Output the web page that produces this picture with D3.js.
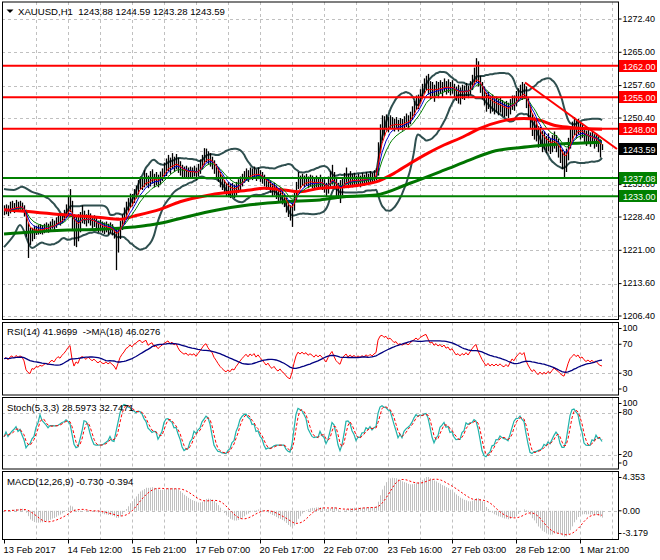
<!DOCTYPE html>
<html>
<head>
<meta charset="utf-8">
<script src="https://cdn.jsdelivr.net/npm/d3@7"></script>
<style>
body { margin: 0; background: #fff; }
text { font-family: "Liberation Sans", Arial, sans-serif; font-size: 9px; fill: #000; }
text.title { font-size: 9.6px; }
text.date { font-size: 9.3px; }
</style>
</head>
<body>
<script>
// XAUUSD H1 bars, one per hour
var closes = [
 1229.8,1230.2,1229.5,1230.4,1230.8,1230.2,1231.0,1230.5,1230.9,1230.6,
 1229.5,1226.0,1224.5,1223.8,1225.2,1224.8,1225.6,1225.3,1225.8,1225.5,
 1225.9,1226.3,1225.8,1226.5,1226.9,1226.4,1227.2,1227.8,1227.4,1228.2,
 1228.8,1229.6,1230.8,1231.6,1228.0,1225.0,1226.5,1225.8,1228.0,1228.6,
 1228.2,1227.5,1228.4,1227.8,1227.0,1227.6,1226.8,1226.2,1226.7,1226.0,
 1225.8,1226.3,1225.6,1226.0,1225.4,1224.8,1223.5,1225.0,1226.8,1228.0,
 1229.0,1230.6,1231.2,1232.5,1232.0,1233.6,1234.2,1235.5,1236.2,1235.6,
 1236.4,1237.2,1236.0,1236.8,1237.5,1236.5,1237.0,1236.3,1237.2,1238.0,
 1238.8,1239.6,1240.4,1239.8,1240.6,1240.0,1240.8,1239.8,1239.0,1238.6,
 1238.2,1238.6,1238.0,1238.5,1238.2,1238.6,1238.0,1238.8,1239.6,1240.6,
 1241.8,1242.4,1241.6,1241.0,1240.6,1239.4,1238.6,1237.6,1236.6,1235.8,
 1235.0,1234.4,1234.8,1234.0,1234.6,1234.2,1234.9,1235.5,1236.2,1236.8,
 1237.4,1238.0,1237.4,1238.2,1237.8,1238.4,1237.6,1238.2,1237.6,1237.0,
 1236.4,1235.6,1236.0,1235.0,1234.4,1234.8,1233.8,1233.2,1233.6,1232.6,
 1232.0,1230.8,1229.8,1229.2,1230.4,1232.6,1235.0,1236.6,1236.0,1236.8,
 1236.2,1236.8,1236.0,1236.6,1236.2,1235.6,1236.4,1235.8,1236.4,1235.8,
 1235.2,1234.4,1235.6,1236.8,1237.8,1236.4,1235.0,1234.2,1233.6,1235.4,
 1236.4,1237.2,1236.2,1237.0,1236.4,1236.9,1236.3,1236.8,1236.4,1236.9,
 1236.6,1237.2,1236.8,1237.4,1237.0,1237.6,1238.0,1244.0,1248.0,1249.2,
 1248.6,1249.8,1249.0,1250.0,1249.4,1248.8,1249.4,1248.6,1249.2,1248.8,
 1249.4,1250.0,1249.6,1250.4,1251.8,1252.6,1254.0,1253.6,1255.4,1256.4,
 1257.6,1258.4,1257.4,1256.4,1257.0,1256.2,1257.2,1256.6,1257.4,1256.8,
 1257.8,1257.0,1257.6,1256.8,1257.4,1256.6,1255.8,1256.2,1255.6,1256.4,
 1256.0,1256.8,1256.2,1257.2,1258.4,1259.6,1260.4,1258.8,1257.6,1256.2,
 1255.0,1253.6,1254.4,1253.2,1253.8,1253.0,1253.6,1252.8,1253.4,1252.6,
 1252.2,1252.8,1252.0,1253.0,1254.2,1253.6,1254.8,1255.6,1256.4,1255.8,
 1256.6,1254.0,1252.2,1250.4,1248.6,1249.2,1247.4,1245.8,1246.6,1245.0,
 1245.6,1244.4,1245.2,1244.0,1244.8,1245.6,1244.6,1243.8,1242.4,1241.2,
 1240.4,1242.0,1244.4,1246.6,1247.6,1248.8,1247.8,1248.6,1247.2,1247.8,
 1246.6,1245.8,1246.4,1245.6,1246.2,1245.2,1245.8,1244.6,1243.9,1243.59
];
var highs = [
 1231.0,1231.2,1231.0,1231.8,1232.0,1231.5,1232.2,1231.8,1232.0,1231.6,
 1231.0,1230.0,1227.0,1226.0,1226.0,1226.5,1226.4,1226.6,1226.8,1226.6,
 1226.9,1227.2,1226.9,1227.4,1228.0,1227.6,1228.3,1229.0,1228.8,1229.2,
 1230.0,1231.2,1233.0,1234.6,1232.0,1229.0,1228.5,1229.0,1229.5,1231.0,
 1229.8,1229.0,1230.0,1229.2,1228.6,1228.8,1228.2,1227.6,1227.8,1227.4,
 1227.2,1227.4,1226.9,1227.2,1226.8,1226.2,1225.8,1226.0,1227.5,1229.0,
 1230.5,1231.8,1232.6,1233.6,1233.5,1234.6,1235.4,1236.6,1237.4,1237.0,
 1238.8,1238.2,1237.6,1238.6,1239.0,1238.0,1238.4,1237.8,1238.5,1239.2,
 1240.5,1241.4,1242.2,1241.6,1242.6,1241.8,1242.4,1241.6,1240.8,1240.0,
 1239.6,1239.8,1239.4,1239.6,1239.4,1239.8,1239.4,1240.2,1241.2,1242.2,
 1243.7,1243.6,1243.0,1242.6,1241.8,1241.0,1240.2,1239.4,1238.4,1237.6,
 1236.6,1236.0,1236.2,1235.8,1236.0,1235.6,1236.2,1236.8,1237.4,1238.0,
 1238.6,1239.2,1238.8,1239.4,1239.2,1239.6,1239.0,1239.4,1238.8,1238.4,
 1237.8,1237.2,1237.2,1236.6,1235.8,1236.0,1235.4,1234.8,1235.0,1234.2,
 1233.6,1232.6,1231.6,1231.0,1231.6,1233.8,1236.2,1238.4,1237.6,1238.0,
 1237.6,1238.0,1237.4,1237.8,1237.6,1237.0,1237.6,1237.2,1237.8,1237.2,
 1236.8,1236.0,1237.4,1238.6,1240.0,1238.4,1237.0,1236.0,1236.6,1237.2,
 1238.2,1239.4,1238.0,1238.6,1238.0,1238.2,1237.6,1238.0,1237.6,1238.2,
 1237.8,1238.4,1238.0,1238.6,1238.2,1238.8,1239.2,1245.0,1249.0,1251.0,
 1250.8,1251.2,1250.6,1251.0,1250.6,1250.2,1250.6,1250.0,1250.4,1250.2,
 1250.8,1251.4,1251.0,1251.8,1253.0,1254.2,1255.4,1255.6,1256.8,1258.0,
 1259.2,1259.8,1260.2,1258.6,1258.4,1257.8,1258.6,1258.4,1258.8,1258.4,
 1259.2,1258.6,1259.0,1258.4,1258.8,1258.0,1257.4,1257.8,1257.2,1257.8,
 1257.6,1258.2,1257.6,1258.6,1260.0,1261.6,1263.7,1263.0,1259.8,1258.4,
 1257.4,1256.0,1256.2,1255.4,1255.6,1254.8,1255.2,1254.6,1255.0,1254.4,
 1254.0,1254.2,1253.8,1254.6,1255.4,1255.4,1256.4,1257.0,1257.8,1258.4,
 1258.0,1257.4,1254.8,1253.0,1251.4,1250.6,1250.0,1248.6,1248.4,1247.6,
 1247.4,1246.4,1247.0,1246.0,1246.6,1247.4,1246.6,1245.8,1244.6,1243.4,
 1243.0,1243.6,1246.0,1248.2,1249.6,1250.6,1250.0,1250.2,1249.4,1249.2,
 1248.2,1247.6,1247.8,1247.2,1247.4,1246.8,1247.0,1246.4,1245.6,1244.59
];
var lows = [
 1228.8,1229.0,1228.6,1229.2,1229.8,1229.3,1230.0,1229.6,1230.0,1229.8,
 1228.5,1224.0,1219.3,1222.2,1223.0,1223.5,1224.4,1224.5,1224.6,1224.5,
 1224.8,1225.0,1224.9,1225.3,1225.8,1225.4,1226.0,1226.6,1226.5,1227.0,
 1227.6,1228.2,1229.0,1229.5,1225.5,1222.0,1221.7,1223.0,1225.0,1227.0,
 1226.8,1226.3,1227.0,1226.5,1225.8,1226.2,1225.5,1225.0,1225.2,1224.9,
 1224.6,1225.0,1224.5,1224.8,1224.3,1223.6,1216.6,1220.5,1223.5,1225.5,
 1227.0,1228.5,1229.5,1230.5,1230.8,1231.5,1232.5,1233.4,1234.6,1234.4,
 1235.0,1235.4,1234.8,1235.2,1235.8,1235.0,1235.5,1235.0,1235.6,1236.4,
 1236.8,1237.5,1238.6,1238.0,1239.0,1238.4,1239.0,1238.2,1237.6,1237.2,
 1237.0,1237.2,1236.8,1237.2,1237.0,1237.4,1236.6,1237.4,1238.0,1239.0,
 1240.0,1240.6,1240.2,1239.6,1239.0,1238.0,1237.0,1236.2,1235.0,1234.4,
 1233.6,1233.0,1232.8,1232.6,1233.0,1232.6,1233.2,1233.8,1234.4,1235.2,
 1236.0,1236.6,1236.2,1236.8,1236.6,1237.0,1236.4,1236.8,1236.2,1235.8,
 1235.2,1234.4,1234.6,1233.8,1233.0,1233.2,1232.4,1231.8,1232.0,1231.2,
 1230.6,1229.4,1228.4,1227.6,1226.2,1229.8,1232.0,1234.6,1234.8,1235.4,
 1235.0,1235.4,1234.8,1235.2,1234.8,1234.4,1235.0,1234.6,1235.0,1234.4,
 1233.8,1232.8,1233.6,1234.8,1235.6,1234.6,1233.0,1232.4,1231.5,1233.2,
 1234.8,1235.6,1234.8,1235.4,1235.0,1235.4,1235.0,1235.4,1235.0,1235.6,
 1235.4,1235.8,1235.6,1236.0,1235.8,1236.4,1236.6,1237.6,1242.6,1245.4,
 1246.4,1247.6,1247.2,1248.2,1248.0,1247.4,1248.0,1247.4,1247.8,1247.6,
 1248.0,1248.4,1248.2,1249.0,1250.0,1251.0,1252.2,1252.4,1253.6,1254.8,
 1255.8,1256.6,1255.6,1254.6,1255.2,1254.0,1255.4,1254.8,1255.8,1255.0,
 1256.2,1255.6,1256.0,1255.4,1255.8,1255.0,1254.2,1253.6,1253.4,1254.6,
 1254.4,1255.2,1254.8,1255.6,1256.6,1257.8,1258.4,1257.4,1256.0,1254.6,
 1253.2,1251.8,1252.4,1251.4,1251.8,1251.2,1251.6,1251.0,1251.6,1250.8,
 1250.6,1250.8,1250.4,1251.2,1252.2,1252.0,1253.0,1254.0,1254.6,1254.4,
 1254.6,1252.6,1250.4,1248.0,1246.4,1245.6,1245.2,1243.8,1244.4,1242.8,
 1243.4,1242.6,1243.0,1242.4,1242.8,1243.6,1242.8,1241.6,1240.4,1239.0,
 1237.1,1238.4,1241.0,1243.6,1245.4,1246.6,1246.0,1246.8,1245.6,1246.0,
 1245.0,1244.2,1244.8,1244.0,1244.6,1243.6,1244.0,1242.8,1241.6,1243.28
];

// slow moving averages as [bar, price]
var slowRedMA = [[0,1230.0],[10,1229.7],[32,1228.8],[48,1228.3],[58,1227.9],
  [65,1228.6],[78,1230.1],[88,1231.8],[103,1233.3],[123,1234.4],[130,1234.8],
  [140,1234.4],[148,1234.0],[158,1234.8],[170,1235.1],[186,1236.2],[195,1238.1],
  [203,1240.3],[212,1242.6],[220,1244.4],[228,1245.9],[233,1247.0],[238,1248.1],
  [248,1249.6],[260,1250.3],[267,1250.0],[275,1248.8],[283,1248.3],[299,1247.9]];
var slowGreenMA = [[0,1224.6],[15,1225.1],[32,1225.5],[48,1225.7],[65,1226.2],
  [73,1226.6],[78,1227.0],[90,1228.3],[106,1229.9],[123,1231.1],[140,1231.8],
  [158,1232.2],[170,1232.9],[186,1233.3],[203,1235.9],[220,1238.8],[233,1241.1],
  [244,1242.9],[262,1244.0],[278,1244.6],[299,1245.0]];
// Bollinger bands before the 20 bar window fills
var bbLeadUpper = [[0,1234.6],[5,1234.4],[9,1235.1],[14,1234.0]];
var bbLeadLower = [[0,1221.7],[5,1224.4],[8,1226.6],[14,1221.5]];

var redLevels = [1262.00, 1255.00, 1248.00];
var greenLevels = [1237.08, 1233.00];
var lastPrice = 1243.59;
var trendLine = [[260.5, 1258.3], [306.5, 1243.5]];

var priceTicks = [1272.4, 1265.0, 1257.6, 1250.4, 1243.0, 1235.6, 1228.4,
                  1221.0, 1213.6, 1206.4];
var rsiTicks = [100, 70, 30, 0];
var stochTicks = [100, 80, 20, 0];
var macdTicks = [4.353, 0, -3.179];
var macdTickLabels = ["4.353", "0.00", "-3.179"];
var dateBars = [0, 32, 64, 96, 128, 160, 192, 224, 256, 288];
var dateLabels = ["13 Feb 2017", "14 Feb 12:00", "15 Feb 21:00",
  "17 Feb 07:00", "20 Feb 17:00", "22 Feb 07:00", "23 Feb 16:00",
  "27 Feb 03:00", "28 Feb 12:00", "1 Mar 21:00"];

var titleMain = "XAUUSD,H1  1243.88 1244.59 1243.28 1243.59";
var titleRsi = "RSI(14) 41.9699  ->MA(18) 46.0276";
var titleStoch = "Stoch(5,3,3) 28.5973 32.7471";
var titleMacd = "MACD(12,26,9) -0.730 -0.394";

// ---- indicators -----------------------------------------------------------
function ema(src, p) {
    var a = 2 / (p + 1), out = [], e = src[0];
    src.forEach(function(v, i) {
        e = i ? a * v + (1 - a) * e : v;
        out.push(e);
    });
    return out;
}
function sma(src, p) {
    return src.map(function(v, i) {
        return d3.mean(src.slice(Math.max(0, i - p + 1), i + 1));
    });
}
var N = closes.length;
var ema5 = ema(closes, 5), ema8 = ema(closes, 8), ema13 = ema(closes, 13);

var bbUpper = [], bbLower = [];
for (var i = 19; i < N; i++) {
    var w = closes.slice(i - 19, i + 1);
    var m = d3.mean(w);
    var sd = Math.sqrt(d3.mean(w, function(v) { return (v - m) * (v - m); }));
    bbUpper.push([i, m + 2 * sd]);
    bbLower.push([i, m - 2 * sd]);
}
bbUpper = bbLeadUpper.concat(bbUpper);
bbLower = bbLeadLower.concat(bbLower);

// RSI 14 (Wilder)
var seed = d3.mean(d3.range(1, 15), function(k) {
    return Math.abs(closes[k] - closes[k - 1]);
}) / 2;
var ag = seed, al = seed, rsi = [50];
for (i = 1; i < N; i++) {
    var dd = closes[i] - closes[i - 1];
    ag = (ag * 13 + Math.max(dd, 0)) / 14;
    al = (al * 13 + Math.max(-dd, 0)) / 14;
    rsi.push(100 * ag / (ag + al));
}
var rsiMa = sma(rsi, 18);

// Stochastic 5,3,3
var num = [], den = [];
for (i = 0; i < N; i++) {
    var lo = d3.min(lows.slice(Math.max(0, i - 4), i + 1));
    var hi = d3.max(highs.slice(Math.max(0, i - 4), i + 1));
    num.push(closes[i] - lo);
    den.push(hi - lo);
}
var stK = num.map(function(v, i) {
    var a = Math.max(0, i - 2);
    return 100 * d3.sum(num.slice(a, i + 1)) / d3.sum(den.slice(a, i + 1));
});
var stD = sma(stK, 3);

// MACD 12,26,9
var e12 = ema(closes, 12), e26 = ema(closes, 26);
var macd = e12.map(function(v, i) { return v - e26[i]; });
var macdSig = sma(macd, 9);

// ---- layout ---------------------------------------------------------------
var L = 2, R = 618;
var panels = {
    main:  {top: 2,   bottom: 319.5},
    rsi:   {top: 322.5, bottom: 395},
    stoch: {top: 397.5, bottom: 469},
    macd:  {top: 471.5, bottom: 539.5}
};

var svg = d3.select("body").append("svg")
    .attr("width", 660).attr("height", 560)
    .style("background", "#fff");

var x = d3.scaleLinear().domain([0, 300]).range([4, 604]);
var yPrice = d3.scaleLinear().domain([1206.4, 1272.4]).range([316, 19]);
var yRsi = d3.scaleLinear().domain([0, 100]).range([395, 322.5]);
var yStoch = d3.scaleLinear().domain([0, 100]).range([468.5, 398.5]);
var yMacd = d3.scaleLinear().domain([-3.179, 4.353])
    .range([539.5, 471.5]);

var gridBars = d3.range(16, 305, 16);
var defs = svg.append("defs");

function makePanel(name, p) {
    defs.append("clipPath").attr("id", "clip-" + name)
        .append("rect").attr("x", L).attr("y", p.top)
        .attr("width", R - L).attr("height", p.bottom - p.top);
    var g = svg.append("g");
    g.selectAll("line.vgrid").data(gridBars).enter().append("line")
        .attr("x1", function(d) { return Math.round(x(d)) + 0.5; })
        .attr("x2", function(d) { return Math.round(x(d)) + 0.5; })
        .attr("y1", p.top).attr("y2", p.bottom)
        .attr("stroke", "#c0c0c0").attr("stroke-dasharray", "3,3");
    return g;
}
function hGrid(g, vals, y) {
    g.selectAll("line.hgrid").data(vals).enter().append("line")
        .attr("x1", L).attr("x2", R)
        .attr("y1", function(d) { return Math.round(y(d)) + 0.5; })
        .attr("y2", function(d) { return Math.round(y(d)) + 0.5; })
        .attr("stroke", "#c0c0c0").attr("stroke-dasharray", "3,3");
}
function frame(p) {
    svg.append("rect").attr("x", L + 0.5).attr("y", p.top)
        .attr("width", R - L).attr("height", p.bottom - p.top)
        .attr("fill", "none").attr("stroke", "#000");
}
// right-hand scale; min/max labels are kept inside the panel, as MT4 does
function sideAxis(scale, vals, labels, p) {
    var ax = d3.axisRight(scale).tickValues(vals).tickSize(3).tickPadding(1)
        .tickFormat(function(d, i) { return labels ? labels[i] : d; });
    var g = svg.append("g").attr("transform", "translate(" + (R + 0.5) + ",0)")
        .call(ax);
    g.select(".domain").remove();
    g.selectAll(".tick").attr("transform", function(d) {
        var yy = Math.max(p.top + 6, Math.min(p.bottom - 6, scale(d)));
        return "translate(0," + yy + ")";
    });
    g.selectAll("text").attr("font-size", null).attr("font-family", null);
    return g;
}
function seriesLine(g, name, vals, y, color, width, dash) {
    var ln = d3.line().x(function(d, i) { return x(i); })
        .y(function(d) { return y(d); });
    g.append("path").attr("d", ln(vals))
        .attr("clip-path", "url(#clip-" + name + ")")
        .attr("fill", "none").attr("stroke", color)
        .attr("stroke-width", width)
        .attr("stroke-dasharray", dash || null);
}
function pairLine(g, name, pts, y, color, width) {
    var ln = d3.line().curve(d3.curveMonotoneX)
        .x(function(d) { return x(d[0]); })
        .y(function(d) { return y(d[1]); });
    g.append("path").attr("d", ln(pts))
        .attr("clip-path", "url(#clip-" + name + ")")
        .attr("fill", "none").attr("stroke", color)
        .attr("stroke-width", width).attr("stroke-linejoin", "round");
}

// ---- main price panel ----------------------------------------------------
var gm = makePanel("main", panels.main);
hGrid(gm, priceTicks, yPrice);

pairLine(gm, "main", bbUpper, yPrice, "#2f4f4f", 2);
pairLine(gm, "main", bbLower, yPrice, "#2f4f4f", 2);

// bars: high-low line
gm.selectAll("line.bar").data(closes).enter().append("line")
    .attr("x1", function(d, i) { return x(i) + 0.5; })
    .attr("x2", function(d, i) { return x(i) + 0.5; })
    .attr("y1", function(d, i) { return yPrice(highs[i]); })
    .attr("y2", function(d, i) { return yPrice(lows[i]); })
    .attr("stroke", "#000").attr("stroke-width", 1.3);

pairLine(gm, "main", slowGreenMA, yPrice, "#007400", 3);
pairLine(gm, "main", slowRedMA, yPrice, "#ff0000", 3);
seriesLine(gm, "main", ema13, yPrice, "#008000", 1);
seriesLine(gm, "main", ema8, yPrice, "#0000cd", 1);
seriesLine(gm, "main", ema5, yPrice, "#ff0000", 1);

// horizontal levels and trend line
gm.selectAll("line.red").data(redLevels).enter().append("line")
    .attr("x1", L).attr("x2", R)
    .attr("y1", function(d) { return yPrice(d); })
    .attr("y2", function(d) { return yPrice(d); })
    .attr("stroke", "#ff0000").attr("stroke-width", 2);
gm.selectAll("line.green").data(greenLevels).enter().append("line")
    .attr("x1", L).attr("x2", R)
    .attr("y1", function(d) { return yPrice(d); })
    .attr("y2", function(d) { return yPrice(d); })
    .attr("stroke", "#008000").attr("stroke-width", 2);
gm.append("line")
    .attr("clip-path", "url(#clip-main)")
    .attr("x1", x(trendLine[0][0])).attr("y1", yPrice(trendLine[0][1]))
    .attr("x2", x(trendLine[1][0])).attr("y2", yPrice(trendLine[1][1]))
    .attr("stroke", "#ff0000").attr("stroke-width", 2);

frame(panels.main);
sideAxis(yPrice, priceTicks, priceTicks.map(d3.format(".2f")),
    {top: -100, bottom: 1000});

// price boxes on the axis
function priceBox(v, color) {
    var yy = Math.round(yPrice(v));
    svg.append("rect").attr("x", R + 1).attr("y", yy - 6)
        .attr("width", 38).attr("height", 12).attr("fill", color);
    svg.append("text").attr("x", R + 5).attr("y", yy + 3.5)
        .style("fill", "#fff").text(d3.format(".2f")(v));
}
redLevels.forEach(function(v) { priceBox(v, "#ff0000"); });
greenLevels.forEach(function(v) { priceBox(v, "#008000"); });
priceBox(lastPrice, "#000");

// title
svg.append("path").attr("d", "M6.5,9.5 L13.5,9.5 L10,13 Z").attr("fill", "#000");
svg.append("text").attr("class", "title").attr("x", 18).attr("y", 14.5)
    .style("white-space", "pre").text(titleMain);

// ---- RSI panel -------------------------------------------------------------
var gr = makePanel("rsi", panels.rsi);
hGrid(gr, [70, 30], yRsi);
seriesLine(gr, "rsi", rsi, yRsi, "#ff0000", 1);
seriesLine(gr, "rsi", rsiMa, yRsi, "#000080", 1.3);
frame(panels.rsi);
sideAxis(yRsi, rsiTicks, null, panels.rsi);
svg.append("text").attr("class", "title").attr("x", 7).attr("y", 334.5)
    .style("white-space", "pre").text(titleRsi);

// ---- Stochastic panel ------------------------------------------------------
var gs = makePanel("stoch", panels.stoch);
hGrid(gs, [80, 20], yStoch);
svg.append("text").attr("class", "title").attr("x", 7).attr("y", 410.5)
    .style("white-space", "pre").text(titleStoch);
seriesLine(gs, "stoch", stK, yStoch, "#20b2aa", 1.2);
seriesLine(gs, "stoch", stD, yStoch, "#ff0000", 1, "3,2");
frame(panels.stoch);
sideAxis(yStoch, stochTicks, null, panels.stoch);

// ---- MACD panel ------------------------------------------------------------
var gc = makePanel("macd", panels.macd);
hGrid(gc, [0], yMacd);
gc.selectAll("line.hist").data(macd).enter().append("line")
    .attr("clip-path", "url(#clip-macd)")
    .attr("x1", function(d, i) { return x(i) + 0.5; })
    .attr("x2", function(d, i) { return x(i) + 0.5; })
    .attr("y1", yMacd(0))
    .attr("y2", function(d) { return yMacd(d); })
    .attr("stroke", "#c0c0c0").attr("stroke-width", 1);
seriesLine(gc, "macd", macdSig, yMacd, "#ff0000", 1, "2,2");
frame(panels.macd);
sideAxis(yMacd, macdTicks, macdTickLabels, panels.macd);
svg.append("text").attr("class", "title").attr("x", 7).attr("y", 484.5)
    .style("white-space", "pre").text(titleMacd);

// ---- time axis -------------------------------------------------------------
var xAxis = d3.axisBottom(x).tickValues(dateBars).tickSize(4).tickPadding(3)
    .tickFormat(function(d, i) { return dateLabels[i]; });
var gx = svg.append("g").attr("transform", "translate(0," + panels.macd.bottom + ")")
    .call(xAxis);
gx.select(".domain").remove();
gx.selectAll("text").attr("font-size", null).attr("font-family", null)
    .attr("class", "date")
    .style("text-anchor", "start").attr("dx", "-1");
</script>
</body>
</html>
